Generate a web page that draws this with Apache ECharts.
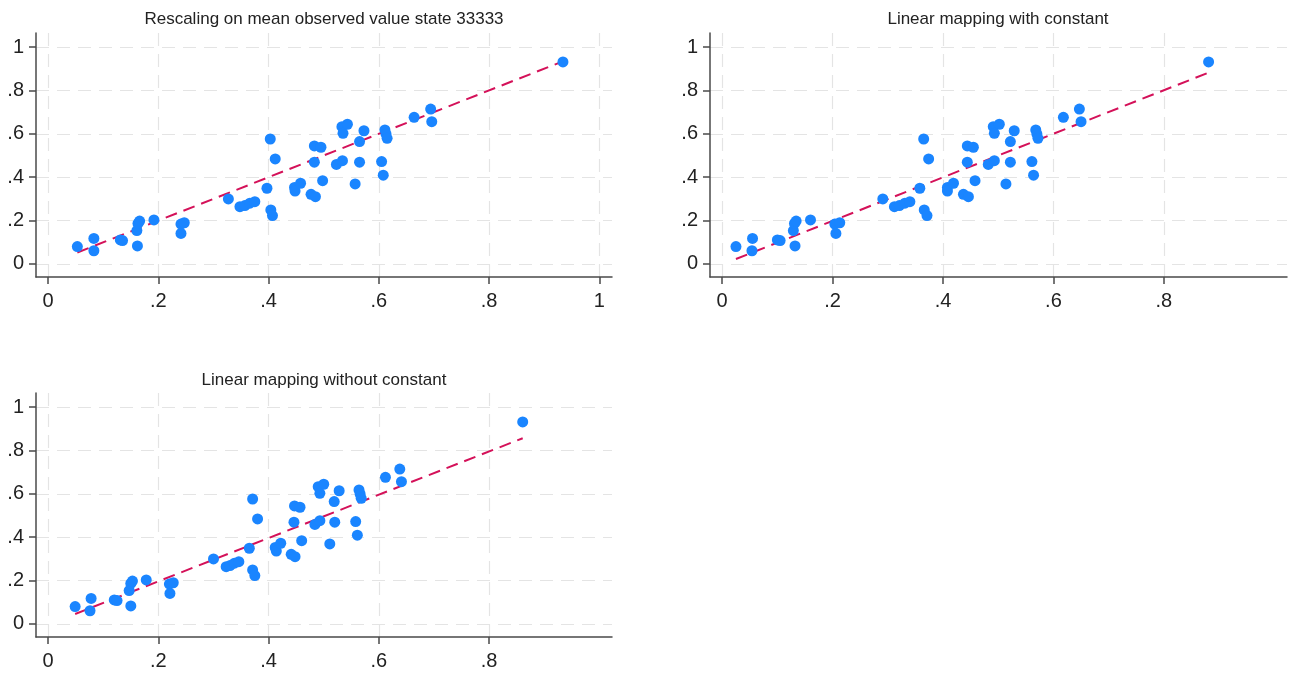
<!DOCTYPE html>
<html>
<head>
<meta charset="utf-8">
<script src="https://cdn.jsdelivr.net/npm/echarts@6/dist/echarts.min.js"></script>
<style>
html,body{margin:0;padding:0;background:#fff;}
#c{width:1290px;height:675px;}
</style>
</head>
<body>
<div id="c"></div>
<script>
// Observed values (shared y across panels)
const observed = [0.080,0.118,0.061,0.111,0.108,0.154,0.187,0.198,0.083,0.203,
  0.184,0.190,0.141,0.300,0.264,0.269,0.280,0.287,0.349,0.576,
  0.484,0.249,0.223,0.353,0.336,0.372,0.321,0.310,0.544,0.538,
  0.469,0.384,0.459,0.476,0.633,0.644,0.602,0.614,0.564,0.469,
  0.369,0.472,0.409,0.618,0.599,0.579,0.676,0.714,0.656,0.931];
// Predicted values, panel 1: rescaling on mean observed value
const predRescale = [0.053,0.083,0.083,0.131,0.135,0.161,0.163,0.166,0.162,0.192,
  0.241,0.247,0.241,0.327,0.348,0.357,0.366,0.375,0.397,0.403,
  0.412,0.404,0.407,0.447,0.448,0.458,0.477,0.485,0.483,0.495,
  0.483,0.498,0.523,0.534,0.533,0.543,0.535,0.573,0.565,0.565,
  0.557,0.605,0.608,0.611,0.613,0.615,0.664,0.694,0.696,0.934];
// Panel 2: linear mapping with constant
const predWithConst = [0.025,0.055,0.054,0.100,0.105,0.129,0.131,0.134,0.132,0.160,
  0.204,0.213,0.206,0.291,0.312,0.321,0.331,0.340,0.358,0.365,
  0.374,0.366,0.371,0.408,0.408,0.419,0.437,0.446,0.444,0.455,
  0.444,0.458,0.482,0.493,0.491,0.502,0.493,0.529,0.522,0.522,
  0.514,0.561,0.564,0.568,0.570,0.572,0.618,0.647,0.650,0.881];
// Panel 3: linear mapping without constant
const predNoConst = [0.049,0.078,0.076,0.120,0.125,0.147,0.150,0.153,0.150,0.178,
  0.220,0.227,0.221,0.300,0.323,0.330,0.338,0.346,0.365,0.371,
  0.380,0.371,0.375,0.412,0.414,0.422,0.441,0.448,0.447,0.457,
  0.446,0.460,0.484,0.493,0.490,0.500,0.493,0.528,0.519,0.520,
  0.511,0.558,0.561,0.564,0.566,0.568,0.612,0.638,0.641,0.861];
// Fitted (dashed) line endpoints
const fitRescale = [[0.053,0.053],[0.934,0.934]];
const fitWithConst = [[0.025,0.023],[0.881,0.882]];
const fitNoConst = [[0.049,0.046],[0.861,0.856]];
// Tick values
const xTicksFull = [0,0.2,0.4,0.6,0.8,1];
const xTicksShort = [0,0.2,0.4,0.6,0.8];
const yTicks = [0,0.2,0.4,0.6,0.8,1];
const titles = ['Rescaling on mean observed value state 33333','Linear mapping with constant','Linear mapping without constant'];

const FONT = 'Liberation Sans, Arial, sans-serif';
const fmt = v => { const s = String(Math.round(v*10)/10); return s.replace(/^0\./,'.'); };

function pairs(xs, ys){ return xs.map((x,i)=>[x, ys[i]]); }

const grids = [
  {left:36, top:33, width:576, height:244},
  {left:710, top:33, width:577, height:244},
  {left:36, top:393, width:576, height:244}
];
const xTickSets = [xTicksFull, xTicksShort, xTicksShort];
const preds = [predRescale, predWithConst, predNoConst];
const fits = [fitRescale, fitWithConst, fitNoConst];

function xAxis(i){
  return {
    gridIndex:i, type:'value', min:-0.022, max:1.023,
    axisLine:{show:true, onZero:false, lineStyle:{color:'#4a4a4a', width:1.5}},
    axisTick:{show:true, length:7, customValues:xTickSets[i], lineStyle:{color:'#4a4a4a', width:1.5}},
    axisLabel:{customValues:xTickSets[i], formatter:fmt, fontFamily:FONT, fontSize:20, color:'#222', margin:14},
    splitLine:{show:true, lineStyle:{color:'#e4e4e4', width:1.2, type:[13,8]}}
  };
}
function yAxis(i){
  return {
    gridIndex:i, type:'value', min:-0.06, max:1.0645,
    axisLine:{show:true, onZero:false, lineStyle:{color:'#4a4a4a', width:1.5}},
    axisTick:{show:true, length:7, customValues:yTicks, lineStyle:{color:'#4a4a4a', width:1.5}},
    axisLabel:{customValues:yTicks, formatter:fmt, fontFamily:FONT, fontSize:20, color:'#222', margin:12},
    splitLine:{show:true, lineStyle:{color:'#e4e4e4', width:1.2, type:[13,8]}}
  };
}

const series = [];
for (let i=0;i<3;i++){
  series.push({
    type:'line', xAxisIndex:i, yAxisIndex:i, data:fits[i], symbol:'none', silent:true,
    lineStyle:{color:'#d41159', width:2, type:[12,7]}, z:2, animation:false
  });
  series.push({
    type:'scatter', xAxisIndex:i, yAxisIndex:i, data:pairs(preds[i], observed),
    symbolSize:11, itemStyle:{color:'#1a85ff', opacity:1}, z:3, animation:false
  });
}

const titleStyle = {fontFamily:FONT, fontSize:17, fontWeight:'normal', color:'#222'};
const chart = echarts.init(document.getElementById('c'), null, {renderer:'canvas'});
chart.setOption({
  backgroundColor:'#ffffff',
  animation:false,
  title:[
    {text:titles[0], left:324, top:11, textAlign:'center', padding:0, textStyle:titleStyle},
    {text:titles[1], left:998, top:11, textAlign:'center', padding:0, textStyle:titleStyle},
    {text:titles[2], left:324, top:372, textAlign:'center', padding:0, textStyle:titleStyle}
  ],
  grid:grids,
  xAxis:[xAxis(0), xAxis(1), xAxis(2)],
  yAxis:[yAxis(0), yAxis(1), yAxis(2)],
  series:series
});
</script>
</body>
</html>
